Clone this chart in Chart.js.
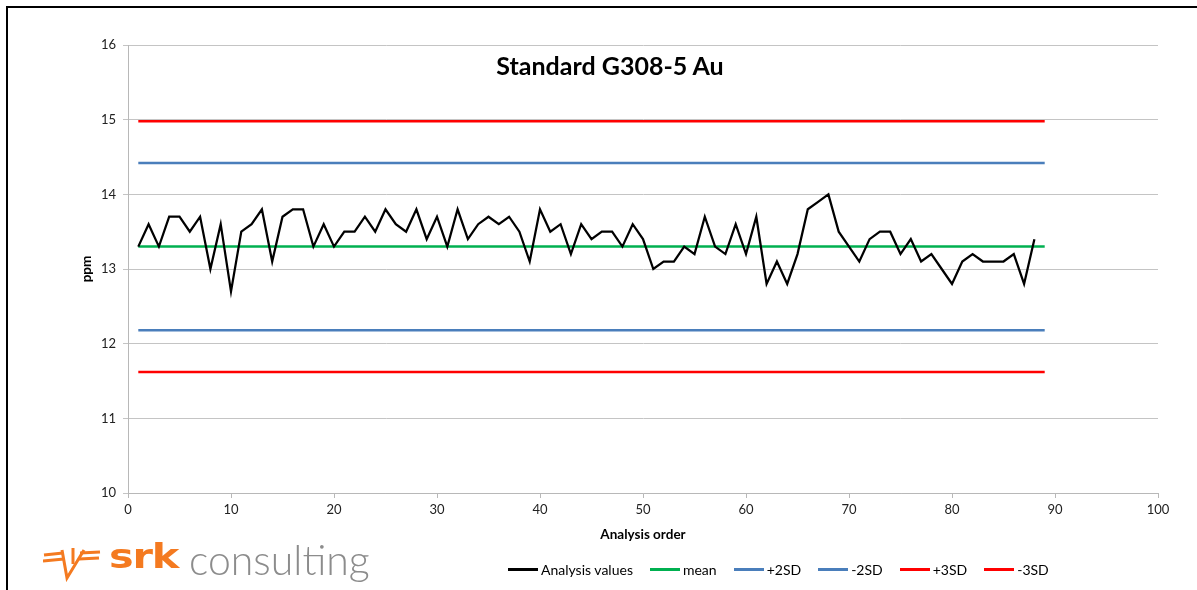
<!DOCTYPE html>
<html>
<head>
<meta charset="utf-8">
<script src="https://cdn.jsdelivr.net/npm/chart.js@4"></script>
<style>
  html, body { margin: 0; padding: 0; background: #fff; }
  body { width: 1197px; height: 590px; position: relative; overflow: hidden; font-family: Lato, "Open Sans", sans-serif; }
  #frame { position: absolute; left: 6px; top: 6px; width: 1300px; height: 700px; border-left: 2px solid #000; border-top: 2px solid #000; }
  #chart { position: absolute; left: 0; top: 0; }
  #title { position: absolute; left: 0; width: 1220px; top: 50px; text-align: center; font-weight: bold; font-size: 25px; color: #000; }
  #legend { position: absolute; left: 508px; top: 561px; display: flex; align-items: center; font-size: 14px; color: #000; white-space: nowrap; }
  #legend .item { display: flex; align-items: center; margin-right: 17px; }
  #legend .swatch { width: 30px; height: 3px; margin-right: 3px; }
  #logo { position: absolute; left: 43px; top: 540px; height: 48px; }
  #logo svg { position: absolute; left: 0; top: 8px; }
  #srk { position: absolute; left: 66px; top: -4px; font-family: "DejaVu Sans", sans-serif; font-weight: bold; font-size: 34px; color: #f47a20; transform: scaleX(1.22); transform-origin: left top; letter-spacing: -1px; }
  #consulting { position: absolute; left: 146px; top: -5px; font-family: Lato, sans-serif; font-weight: 300; font-size: 41px; color: #8c8c8c; }
</style>
</head>
<body>
<div id="frame"></div>
<canvas id="chart" width="1197" height="590"></canvas>
<div id="title">Standard G308-5 Au</div>
<div id="legend"></div>
<div id="logo">
  <svg width="58" height="34" viewBox="0 0 58 34">
    <g fill="none" stroke="#f47a20" stroke-width="3" stroke-linejoin="miter">
      <line x1="1" y1="7" x2="20" y2="5"/>
      <line x1="0" y1="13" x2="21" y2="11"/>
      <line x1="37" y1="5" x2="57" y2="4"/>
      <line x1="36" y1="11" x2="56" y2="10"/>
      <polyline points="19,2 24,30 41,2"/>
      <line x1="30" y1="0" x2="30" y2="16"/>
    </g>
  </svg>
  <div id="srk">srk</div>
  <div id="consulting">consulting</div>
</div>
<script>
// Au results for standard G308-5, in analysis order (ppm)
const analysisValues = [
  13.3, 13.6, 13.3, 13.7, 13.7, 13.5, 13.7, 13.0, 13.6, 12.7,
  13.5, 13.6, 13.8, 13.1, 13.7, 13.8, 13.8, 13.3, 13.6, 13.3,
  13.5, 13.5, 13.7, 13.5, 13.8, 13.6, 13.5, 13.8, 13.4, 13.7,
  13.3, 13.8, 13.4, 13.6, 13.7, 13.6, 13.7, 13.5, 13.1, 13.8,
  13.5, 13.6, 13.2, 13.6, 13.4, 13.5, 13.5, 13.3, 13.6, 13.4,
  13.0, 13.1, 13.1, 13.3, 13.2, 13.7, 13.3, 13.2, 13.6, 13.2,
  13.7, 12.8, 13.1, 12.8, 13.2, 13.8, 13.9, 14.0, 13.5, 13.3,
  13.1, 13.4, 13.5, 13.5, 13.2, 13.4, 13.1, 13.2, 13.0, 12.8,
  13.1, 13.2, 13.1, 13.1, 13.1, 13.2, 12.8, 13.4
];

// control limits
const limitLabels = ["mean", "+2SD", "-2SD", "+3SD", "-3SD"];
const limitValues = [13.3, 14.42, 12.18, 14.98, 11.62];
const limitColors = ["#00b050", "#4a7ebb", "#4a7ebb", "#ff0000", "#ff0000"];
const limitFrom = 1;
const limitTo = 89;

const xTicks = [0, 10, 20, 30, 40, 50, 60, 70, 80, 90, 100];
const yTicks = [10, 11, 12, 13, 14, 15, 16];

const datasets = [
  {
    label: "Analysis values",
    data: analysisValues.map((v, i) => ({ x: i + 1, y: v })),
    borderColor: "#000000",
    borderWidth: 2.25,
    pointRadius: 0,
    tension: 0,
  },
];
limitValues.forEach((v, i) => {
  datasets.push({
    label: limitLabels[i],
    data: [{ x: limitFrom, y: v }, { x: limitTo, y: v }],
    borderColor: limitColors[i],
    borderWidth: 2.5,
    pointRadius: 0,
  });
});

const tickFont = { family: "Lato, 'Open Sans', sans-serif", size: 13 };
const titleFont = { family: "Lato, 'Open Sans', sans-serif", size: 13.5, weight: "bold" };

new Chart(document.getElementById("chart"), {
  type: "line",
  data: { datasets: datasets },
  options: {
    responsive: false,
    animation: false,
    devicePixelRatio: 1,
    layout: { padding: { left: 79, top: 45, right: 39, bottom: 47 } },
    plugins: { legend: { display: false }, tooltip: { enabled: false } },
    scales: {
      x: {
        type: "linear",
        min: 0,
        max: 100,
        afterBuildTicks: (scale) => { scale.ticks = xTicks.map((v) => ({ value: v })); },
        afterFit: (scale) => { scale.height = 50; },
        ticks: { font: tickFont, color: "#222", padding: 4, maxRotation: 0 },
        grid: { drawOnChartArea: false, drawTicks: true, tickLength: 5, color: "#b8b8b8" },
        border: { color: "#b8b8b8" },
        title: { display: true, text: "Analysis order", font: titleFont, color: "#000", padding: { top: 0, bottom: 0 } },
      },
      y: {
        min: 10,
        max: 16,
        afterBuildTicks: (scale) => { scale.ticks = yTicks.map((v) => ({ value: v })); },
        afterFit: (scale) => { scale.width = 49; },
        ticks: { font: tickFont, color: "#222", padding: 7 },
        grid: { color: "#c4c4c4", tickLength: 5 },
        border: { color: "#b8b8b8" },
        title: { display: true, text: "ppm", font: titleFont, color: "#000", padding: { top: 0, bottom: 0 } },
      },
    },
  },
});

// legend below the plot
const legend = document.getElementById("legend");
datasets.forEach((d) => {
  const item = document.createElement("div");
  item.className = "item";
  const sw = document.createElement("span");
  sw.className = "swatch";
  sw.style.background = d.borderColor;
  const txt = document.createElement("span");
  txt.textContent = d.label;
  item.appendChild(sw);
  item.appendChild(txt);
  legend.appendChild(item);
});
</script>
</body>
</html>
